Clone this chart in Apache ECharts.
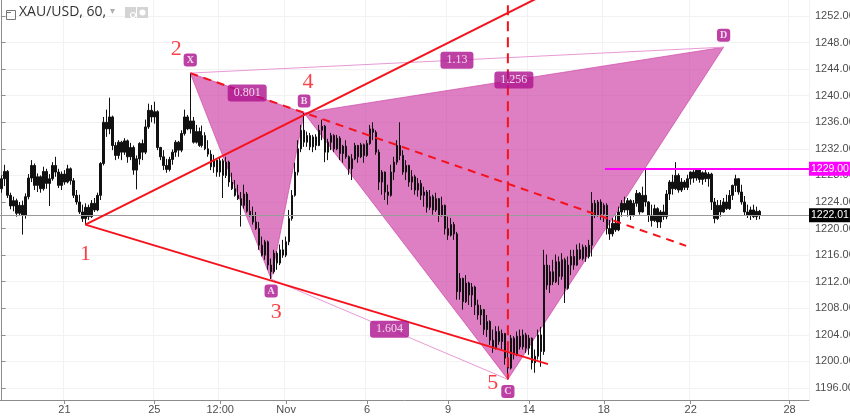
<!DOCTYPE html>
<html><head><meta charset="utf-8">
<script src="https://cdn.jsdelivr.net/npm/echarts@6/dist/echarts.min.js"></script>
<style>html,body{margin:0;padding:0;background:#fff;overflow:hidden}#c{width:850px;height:418px}</style>
</head><body><div id="c"></div>
<script>
const N = 270;
const xTickIdx = [21, 51, 73, 95, 122, 149, 176, 201, 230, 263];
const xTickLabels = ['21', '25', '12:00', 'Nov', '6', '9', '14', '18', '22', '28'];
const yTicks = [1196, 1200, 1204, 1208, 1212, 1216, 1220, 1224, 1228, 1232, 1236, 1240, 1244, 1248, 1252];

const opens = [1226.0,1227.5,1228.6,1225.0,1223.4,1224.2,1222.3,1223.5,1222.0,1224.8,
1227.6,1229.5,1226.5,1227.8,1226.0,1228.6,1226.8,1227.5,1229.5,1228.5,
1226.5,1228.2,1227.0,1229.0,1227.2,1225.0,1224.0,1222.5,1221.5,1223.2,
1221.8,1223.8,1222.8,1225.0,1229.8,1236.0,1235.0,1236.8,1232.5,1231.0,
1233.0,1231.5,1233.2,1230.8,1232.2,1228.8,1230.5,1232.8,1231.5,1235.3,
1237.8,1236.8,1237.6,1232.2,1230.8,1229.5,1228.9,1230.4,1231.5,1233.0,
1231.8,1234.3,1236.8,1235.0,1236.2,1233.0,1234.6,1232.5,1234.0,1232.0,
1231.2,1229.3,1230.3,1228.5,1230.2,1228.0,1230.0,1227.0,1226.0,1225.0,
1224.5,1223.5,1225.2,1222.6,1222.0,1221.0,1220.0,1217.5,1216.0,1218.0,
1214.5,1213.5,1216.3,1214.8,1216.8,1216.0,1218.0,1221.5,1225.0,1228.5,
1232.0,1234.8,1233.0,1234.0,1232.3,1233.8,1232.5,1234.8,1235.4,1231.5,
1233.0,1234.0,1232.0,1233.6,1231.3,1232.4,1230.8,1229.0,1230.5,1232.5,
1230.8,1232.6,1231.0,1232.8,1235.0,1234.5,1231.5,1227.0,1228.5,1225.5,
1225.0,1228.5,1230.0,1232.5,1231.0,1228.5,1229.5,1227.0,1227.8,1225.8,
1226.8,1225.0,1225.5,1223.2,1224.8,1222.8,1224.5,1222.0,1223.5,1220.0,
1219.0,1220.6,1219.2,1210.5,1212.5,1209.0,1211.8,1210.0,1211.2,1208.5,
1207.0,1207.8,1204.8,1206.0,1203.2,1202.0,1204.5,1203.0,1204.2,1200.5,
1199.0,1203.5,1201.0,1203.8,1202.2,1204.0,1202.0,1203.5,1199.8,1200.8,
1204.0,1201.5,1214.5,1211.5,1213.5,1212.0,1215.0,1212.8,1215.3,1211.0,
1214.5,1215.8,1214.5,1216.8,1215.5,1217.2,1215.8,1217.5,1223.8,1222.0,
1224.0,1222.2,1223.5,1220.0,1219.2,1220.8,1219.8,1222.5,1223.8,1222.8,
1224.2,1222.0,1223.8,1225.3,1222.5,1225.0,1224.0,1222.0,1221.2,1223.0,
1221.0,1222.5,1221.8,1225.2,1227.0,1226.0,1228.0,1225.8,1227.0,1226.2,
1227.5,1228.5,1227.6,1228.8,1227.4,1228.4,1227.5,1228.2,1224.0,1221.5,
1223.5,1222.5,1224.0,1223.0,1225.0,1226.5,1227.5,1225.5,1224.0,1222.5,
1222.0,1222.8,1221.8,1222.6];
const closes = [1227.5,1228.6,1225.0,1223.4,1224.2,1222.3,1223.5,1222.0,1224.8,1227.6,
1229.5,1226.5,1227.8,1226.0,1228.6,1226.8,1227.5,1229.5,1228.5,1226.5,
1228.2,1227.0,1229.0,1227.2,1225.0,1224.0,1222.5,1221.5,1223.2,1221.8,
1223.8,1222.8,1225.0,1229.8,1236.0,1235.0,1236.8,1232.5,1231.0,1233.0,
1231.5,1233.2,1230.8,1232.2,1228.8,1230.5,1232.8,1231.5,1235.3,1237.8,
1236.8,1237.6,1232.2,1230.8,1229.5,1228.9,1230.4,1231.5,1233.0,1231.8,
1234.3,1236.8,1235.0,1236.2,1233.0,1234.6,1232.5,1234.0,1232.0,1231.2,
1229.3,1230.3,1228.5,1230.2,1228.0,1230.0,1227.0,1226.0,1225.0,1224.5,
1223.5,1225.2,1222.6,1222.0,1221.0,1220.0,1217.5,1216.0,1218.0,1214.5,
1213.5,1216.3,1214.8,1216.8,1216.0,1218.0,1221.5,1225.0,1228.5,1232.0,
1234.8,1233.0,1234.0,1232.3,1233.8,1232.5,1234.8,1235.4,1231.5,1233.0,
1234.0,1232.0,1233.6,1231.3,1232.4,1230.8,1229.0,1230.5,1232.5,1230.8,
1232.6,1231.0,1232.8,1235.0,1234.5,1231.5,1227.0,1228.5,1225.5,1225.0,
1228.5,1230.0,1232.5,1231.0,1228.5,1229.5,1227.0,1227.8,1225.8,1226.8,
1225.0,1225.5,1223.2,1224.8,1222.8,1224.5,1222.0,1223.5,1220.0,1219.0,
1220.6,1219.2,1210.5,1212.5,1209.0,1211.8,1210.0,1211.2,1208.5,1207.0,
1207.8,1204.8,1206.0,1203.2,1202.0,1204.5,1203.0,1204.2,1200.5,1199.0,
1203.5,1201.0,1203.8,1202.2,1204.0,1202.0,1203.5,1199.8,1200.8,1204.0,
1201.5,1214.5,1211.5,1213.5,1212.0,1215.0,1212.8,1215.3,1211.0,1214.5,
1215.8,1214.5,1216.8,1215.5,1217.2,1215.8,1217.5,1223.8,1222.0,1224.0,
1222.2,1223.5,1220.0,1219.2,1220.8,1219.8,1222.5,1223.8,1222.8,1224.2,
1222.0,1223.8,1225.3,1222.5,1225.0,1224.0,1222.0,1221.2,1223.0,1221.0,
1222.5,1221.8,1225.2,1227.0,1226.0,1228.0,1225.8,1227.0,1226.2,1227.5,
1228.5,1227.6,1228.8,1227.4,1228.4,1227.5,1228.2,1224.0,1221.5,1223.5,
1222.5,1224.0,1223.0,1225.0,1226.5,1227.5,1225.5,1224.0,1222.5,1222.0,
1222.8,1221.8,1222.6,1222.01];
const lows = [1225.4,1226.4,1224.6,1222.9,1222.6,1221.8,1221.9,1219.1,1221.5,1224.4,
1227.0,1225.8,1225.5,1225.4,1225.7,1226.0,1223.4,1227.2,1227.8,1226.1,
1225.8,1226.6,1226.8,1226.6,1224.6,1223.6,1222.2,1221.0,1220.6,1221.3,
1221.6,1222.5,1222.6,1224.3,1229.5,1233.8,1234.2,1231.8,1230.3,1230.5,
1230.3,1231.1,1229.9,1230.3,1228.1,1225.9,1229.6,1230.3,1231.2,1235.0,
1236.0,1235.8,1231.8,1230.3,1228.8,1228.4,1228.6,1229.6,1230.8,1230.8,
1231.5,1234.0,1234.8,1234.3,1232.8,1232.8,1232.3,1232.2,1231.8,1230.8,
1228.8,1228.4,1227.8,1227.8,1224.6,1227.6,1226.3,1225.8,1224.8,1224.3,
1220.3,1223.0,1222.4,1221.8,1220.6,1219.8,1216.8,1215.8,1215.3,1213.8,
1212.4,1213.2,1213.8,1214.5,1215.6,1215.7,1217.5,1221.2,1224.8,1228.0,
1231.5,1232.3,1232.3,1231.8,1231.5,1231.8,1232.4,1233.3,1230.0,1230.3,
1231.8,1231.5,1231.8,1230.3,1229.9,1230.5,1228.1,1227.3,1230.3,1229.9,
1230.6,1229.9,1230.8,1232.6,1233.3,1231.1,1225.8,1225.1,1224.3,1223.6,
1224.8,1227.3,1229.6,1230.3,1228.1,1227.3,1226.3,1225.8,1225.1,1224.8,
1224.3,1223.3,1222.4,1222.8,1222.1,1222.5,1221.0,1221.8,1219.1,1218.3,
1218.8,1218.3,1209.3,1209.3,1207.8,1208.8,1208.5,1208.2,1207.0,1206.3,
1205.5,1204.0,1203.7,1202.5,1201.3,1201.8,1202.5,1201.8,1199.5,1197.3,
1198.8,1200.3,1200.8,1201.8,1201.8,1201.3,1201.0,1198.8,1198.3,1200.3,
1199.2,1201.0,1210.8,1210.3,1211.5,1211.8,1211.5,1212.3,1208.8,1210.8,
1213.0,1213.8,1214.4,1215.3,1215.2,1215.0,1215.5,1215.8,1221.6,1221.8,
1221.3,1221.0,1219.1,1218.3,1218.8,1219.5,1219.6,1221.8,1222.4,1221.8,
1221.3,1221.8,1223.3,1222.1,1222.4,1223.3,1221.0,1220.3,1221.0,1220.1,
1220.1,1221.3,1221.4,1224.3,1225.1,1225.8,1225.4,1225.5,1225.8,1225.8,
1226.6,1226.9,1227.2,1226.9,1226.6,1227.0,1226.3,1222.8,1220.8,1221.3,
1221.8,1222.4,1222.8,1222.8,1224.3,1225.5,1225.1,1223.6,1222.0,1221.6,
1221.3,1221.6,1221.3,1221.4];
const highs = [1228.0,1229.6,1228.8,1225.4,1224.8,1224.5,1224.0,1224.2,1225.3,1228.2,
1230.3,1229.8,1228.3,1228.0,1229.3,1229.0,1228.2,1230.0,1230.8,1229.0,
1228.6,1228.8,1229.6,1229.2,1227.6,1225.8,1225.1,1223.6,1223.8,1223.6,
1224.3,1224.6,1225.4,1230.0,1236.8,1237.9,1239.7,1237.0,1233.0,1233.3,
1233.2,1233.6,1233.4,1232.9,1232.5,1231.0,1233.0,1233.4,1236.4,1238.8,
1238.6,1239.1,1237.8,1232.3,1231.8,1230.5,1230.8,1231.9,1233.3,1233.2,
1234.8,1237.9,1237.1,1243.4,1236.8,1235.6,1235.2,1235.5,1234.5,1233.3,
1231.8,1231.1,1230.6,1230.8,1230.5,1230.8,1230.2,1228.4,1227.3,1226.6,
1225.5,1226.6,1225.5,1224.3,1223.3,1222.5,1221.0,1218.8,1218.3,1218.2,
1215.5,1216.8,1216.6,1217.6,1218.3,1218.8,1222.8,1225.8,1229.9,1233.3,
1235.6,1237.4,1234.6,1234.4,1234.1,1234.2,1235.6,1236.4,1235.6,1233.5,
1234.4,1234.2,1234.1,1233.9,1232.6,1233.3,1231.0,1231.2,1232.9,1232.6,
1232.9,1232.8,1233.3,1235.6,1236.0,1234.8,1231.9,1228.8,1228.6,1226.6,
1229.6,1230.8,1233.3,1236.0,1231.8,1230.3,1229.6,1228.8,1228.1,1227.6,
1227.3,1226.3,1225.8,1225.8,1225.1,1225.4,1224.6,1224.8,1223.6,1221.8,
1221.6,1221.0,1219.5,1213.3,1212.6,1213.0,1212.0,1211.8,1211.4,1209.3,
1208.5,1207.9,1207.0,1206.2,1204.8,1205.3,1205.3,1204.8,1204.3,1202.0,
1204.0,1203.8,1204.5,1204.8,1204.8,1204.3,1204.0,1203.6,1201.8,1204.8,
1205.2,1216.8,1216.1,1214.5,1215.3,1216.1,1215.8,1216.3,1215.6,1215.8,
1216.8,1216.8,1217.6,1217.8,1217.6,1217.5,1218.3,1225.5,1224.3,1224.3,
1224.4,1223.8,1223.8,1221.3,1221.6,1222.1,1223.3,1224.3,1224.8,1224.6,
1224.4,1224.3,1225.8,1225.5,1226.3,1229.1,1224.1,1223.6,1223.6,1223.2,
1222.8,1223.6,1225.8,1227.3,1228.1,1230.0,1228.3,1227.6,1227.3,1228.1,
1228.6,1228.8,1229.1,1228.9,1228.6,1228.8,1228.5,1228.4,1224.6,1224.3,
1224.3,1224.6,1225.1,1225.8,1226.6,1228.1,1227.6,1226.6,1224.9,1223.6,
1223.3,1223.6,1223.3,1222.8];

// XABCD pattern points (bar index, price)
const patternNames = ['X', 'A', 'B', 'C', 'D'];
const patternIdx = [63, 90, 101, 169, 241];
const patternPrice = [1243.4, 1212.4, 1237.4, 1197.3, 1247.3];
const ratioPairs = [[0, 2], [1, 3], [2, 4], [0, 4]];
const ratioValues = ['0.801', '1.604', '1.256', '1.13'];
// wave count points
const waveNames = ['1', '2', '3', '4', '5'];
const waveIdx = [28, 63, 90, 101, 169];
const wavePrice = [1220.6, 1243.4, 1212.4, 1237.4, 1197.3];
// trend lines [[idx, price], [idx, price]]
const upperLine = [[28, 1220.6], [182, 1255.4]];
const lowerLine = [[28, 1220.6], [182.4, 1199.6]];
const xbLine = [[63, 1243.4], [228.5, 1217.4]];
const vertLine = [[169, 1256.0], [169, 1197.3]];
const levelLine = [[201.4, 1229.0], [269.5, 1229.0]];
const levelValue = 1229.0;
const lastPrice = 1222.01;

const xCats = Array.from({length: N}, () => '');
xTickIdx.forEach((k, j) => { xCats[k] = xTickLabels[j]; });
const showTick = (i, v) => v !== '';

const candles = opens.map((o, i) => [o, closes[i], lows[i], highs[i]]);

const RED = '#f5121c';
const PINK_FILL = 'rgba(200,40,155,0.6)';
const TAG = '#ad118d';

function seg(data, style, z) {
  return {type: 'line', xAxisIndex: 1, data: data, symbol: 'none', z: z || 4,
    lineStyle: style, silent: true, animation: false};
}

const waveOffsets = [[0, 30], [-14, -24], [5, 33], [4, -31], [-15, 4]];
const tagOffsets = [[0, -13], [0, 12], [0, -12], [0, 12], [0, -12]];
const priceTag = {show: true, position: 'end', distance: 0, color: '#fff',
  padding: [2, 1, 1, 2], fontSize: 10.5, fontFamily: 'Liberation Sans'};

const chart = echarts.init(document.getElementById('c'));
chart.setOption({
  animation: false,
  backgroundColor: '#ffffff',
  grid: {left: 0, right: 41, top: 0, bottom: 18, outerBoundsMode: 'none', containLabel: false},
  xAxis: [{
    type: 'category', data: xCats, boundaryGap: true,
    axisLine: {show: true, lineStyle: {color: '#8c8c8c'}},
    axisTick: {show: true, interval: showTick, alignWithLabel: true, length: 4, lineStyle: {color: '#8c8c8c'}},
    axisLabel: {interval: showTick, color: '#4d4d4d', fontSize: 11, margin: 4, fontFamily: 'Liberation Sans'},
    splitLine: {show: true, interval: showTick, lineStyle: {color: '#f2f2f2'}}
  }, {
    type: 'value', min: -0.5, max: N - 0.5, show: false
  }],
  yAxis: {
    type: 'value', position: 'right', min: 1194.2, max: 1254.4, scale: true,
    axisLine: {show: true, lineStyle: {color: '#8c8c8c'}},
    axisTick: {show: true, customValues: yTicks, length: 4, lineStyle: {color: '#8c8c8c'}},
    axisLabel: {customValues: yTicks, formatter: v => v.toFixed(2), color: '#4d4d4d', fontSize: 11, margin: 6, fontFamily: 'Liberation Sans'},
    splitLine: {show: true, lineStyle: {color: '#f2f2f2'}}
  },
  graphic: [
    {type: 'rect', left: 4, top: 8, shape: {width: 9, height: 9}, style: {fill: 'none', stroke: '#777', lineWidth: 1}, z: 10},
    {type: 'rect', left: 6, top: 12, shape: {width: 5, height: 1}, style: {fill: '#777'}, z: 10},
    {type: 'text', left: 19, top: 5, style: {text: 'XAU/USD, 60,', fill: '#333', font: '14px "Open Sans", sans-serif'}, z: 10},
    {type: 'text', left: 110, top: 6, style: {text: '▾', fill: '#b0b0b0', font: '10px sans-serif'}, z: 10},
    {type: 'rect', left: 125, top: 7, shape: {width: 11, height: 11}, style: {fill: '#d4d4d4'}, z: 10},
    {type: 'circle', left: 128, top: 10, shape: {r: 2.5}, style: {fill: 'none', stroke: '#fff', lineWidth: 1.2}, z: 11},
    {type: 'rect', left: 137, top: 7, shape: {width: 11, height: 11}, style: {fill: '#d4d4d4'}, z: 10},
    {type: 'circle', left: 139.5, top: 9.5, shape: {r: 3}, style: {fill: '#fff'}, z: 11}
  ],
  series: [
    {
      type: 'line', xAxisIndex: 1, data: [], symbol: 'none', z: 1,
      markLine: {
        silent: true, symbol: ['none', 'none'], animation: false,
        data: [
          {yAxis: lastPrice, lineStyle: {color: '#9a9a9a', width: 1, type: 'solid'},
           label: Object.assign({}, priceTag, {formatter: () => lastPrice.toFixed(2), backgroundColor: '#000'})},
          [{coord: levelLine[0], lineStyle: {color: '#ff00ff', width: 2, type: 'solid'},
            label: Object.assign({}, priceTag, {formatter: () => levelValue.toFixed(2), backgroundColor: '#ff00ff'})},
           {coord: levelLine[1]}]
        ]
      }
    },
    {
      type: 'custom', xAxisIndex: 1, z: 2, clip: true, silent: true,
      data: [[patternIdx[0], patternPrice[0]], [patternIdx[2], patternPrice[2]]],
      renderItem: function (params, api) {
        const tri = params.dataIndex === 0 ? [0, 1, 2] : [2, 3, 4];
        const pts = tri.map(k => api.coord([patternIdx[k], patternPrice[k]]));
        return {type: 'polygon', shape: {points: pts},
          style: {fill: PINK_FILL, stroke: 'rgba(205,70,165,0.7)', lineWidth: 1}};
      }
    },
    {
      type: 'candlestick', xAxisIndex: 0, data: candles, z: 3, barWidth: 2, silent: true,
      itemStyle: {color: '#111', color0: '#111', borderColor: '#111', borderColor0: '#111', borderWidth: 1}
    },
    seg([[patternIdx[0], patternPrice[0]], [patternIdx[4], patternPrice[4]]], {color: '#e89ad6', width: 1}, 4),
    seg([[patternIdx[1], patternPrice[1]], [patternIdx[3], patternPrice[3]]], {color: '#e89ad6', width: 1}, 4),
    seg(upperLine, {color: RED, width: 2}, 5),
    seg(lowerLine, {color: RED, width: 2}, 5),
    seg(xbLine, {color: RED, width: 2, type: [8, 6]}, 5),
    seg(vertLine, {color: RED, width: 2, type: [10, 6]}, 5),
    {
      type: 'scatter', xAxisIndex: 1, symbolSize: 0, z: 8, clip: false, silent: true,
      data: ratioPairs.map((p, j) => ({
        value: [(patternIdx[p[0]] + patternIdx[p[1]]) / 2, (patternPrice[p[0]] + patternPrice[p[1]]) / 2],
        name: ratioValues[j]
      })),
      label: {show: true, position: 'inside', formatter: p => p.name, color: '#fff', backgroundColor: TAG,
        padding: [3, 6, 2, 6], borderRadius: 3, fontSize: 12, fontFamily: 'Liberation Serif'}
    },
    {
      type: 'scatter', xAxisIndex: 1, symbolSize: 0, z: 8, clip: false, silent: true,
      data: patternNames.map((n, k) => ({
        value: [patternIdx[k], patternPrice[k]], name: n,
        label: {offset: tagOffsets[k]}
      })),
      label: {show: true, position: 'inside', formatter: p => p.name, color: '#fff', backgroundColor: TAG,
        padding: [2, 3, 1, 3], borderRadius: 3, fontSize: 10, fontWeight: 'bold', fontFamily: 'Liberation Serif'}
    },
    {
      type: 'scatter', xAxisIndex: 1, symbolSize: 0, z: 8, clip: false, silent: true,
      data: waveNames.map((n, k) => ({
        value: [waveIdx[k], wavePrice[k]], name: n,
        label: {offset: waveOffsets[k]}
      })),
      label: {show: true, position: 'inside', formatter: p => p.name, color: RED,
        fontSize: 22, fontFamily: 'Liberation Serif'}
    }
  ]
});
</script>
</body></html>
